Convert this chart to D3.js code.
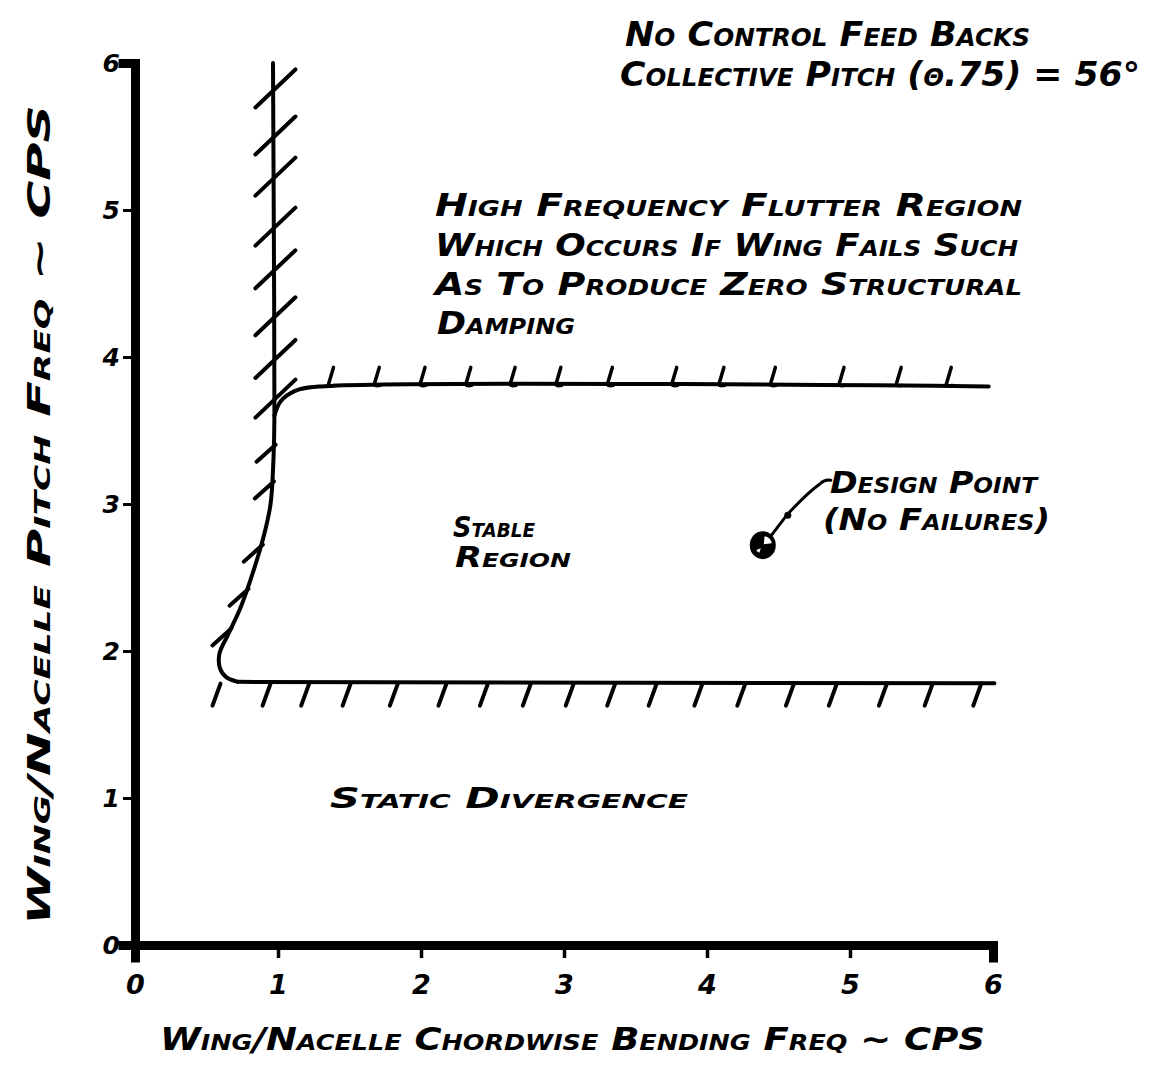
<!DOCTYPE html>
<html>
<head>
<meta charset="utf-8">
<script src="https://cdn.jsdelivr.net/npm/d3@7"></script>
<style>
  html, body { margin: 0; padding: 0; background: #fff; }
  svg { display: block; }
  .hand { font-family: "DejaVu Sans", sans-serif; font-style: oblique; font-weight: bold; font-variant: small-caps; fill: #000; }
</style>
</head>
<body>
<svg id="chart" width="1153" height="1069"></svg>
<script>
// Axis ticks (cycles per second)
const xTicks = [0, 1, 2, 3, 4, 5, 6];
const yTicks = [0, 1, 2, 3, 4, 5, 6];

// Left stability boundary (chordwise freq, pitch freq): vertical flutter edge bending into the divergence edge
const leftBoundaryX = [0.965, 0.972, 0.975, 0.968, 0.948, 0.90, 0.83, 0.74, 0.65, 0.59, 0.595, 0.64, 0.72];
const leftBoundaryY = [6.00, 4.60, 3.60, 3.30, 3.00, 2.78, 2.55, 2.30, 2.11, 1.98, 1.88, 1.82, 1.79];

// Upper (high-frequency flutter) boundary
const flutterBoundaryX = [0.975, 1.02, 1.12, 1.30, 5.97];
const flutterBoundaryY = [3.60, 3.70, 3.77, 3.80, 3.80];

// Lower (static divergence) boundary
const divergenceBoundaryX = [0.72, 6.01];
const divergenceBoundaryY = [1.79, 1.78];

// Hatch stations along each boundary
const verticalHatchY = [5.82, 5.50, 5.22, 4.88, 4.59, 4.27, 3.98, 3.71];
const curveHatchX = [0.969, 0.957, 0.88, 0.78, 0.66];
const curveHatchY = [3.39, 3.14, 2.71, 2.41, 2.14];
const flutterHatchX = [1.36, 1.68, 2.00, 2.32, 2.63, 2.95, 3.31, 3.76, 4.09, 4.45, 4.93, 5.33, 5.68];
const divergenceHatchX = [0.57, 0.92, 1.19, 1.48, 1.81, 2.15, 2.44, 2.74, 3.04, 3.33, 3.62, 3.94, 4.24, 4.58, 4.88, 5.23, 5.55, 5.89];

// Design point (no failures)
const designPointX = [4.39];
const designPointY = [2.72];

const svg = d3.select("#chart");

const x = d3.scaleLinear().domain([0, 6]).range([135, 993]);
const y = d3.scaleLinear().domain([0, 6]).range([945, 63]);

const line = d3.line().x(d => x(d[0])).y(d => y(d[1]));
const smooth = d3.line().x(d => x(d[0])).y(d => y(d[1])).curve(d3.curveCatmullRom.alpha(0.5));

// ---- axes ----
const xAxis = d3.axisBottom(x).tickValues(xTicks).tickSizeOuter(0).tickSize(13).tickFormat(d3.format("d"));
const gx = svg.append("g").attr("transform", `translate(0,${y(0)})`).call(xAxis);
gx.select(".domain").attr("stroke", "#000").attr("stroke-width", 9).attr("stroke-linecap", "square");
gx.selectAll(".tick line").attr("stroke", "#000").attr("stroke-width", 3.5).attr("y1", 4);
gx.selectAll(".tick text")
  .attr("class", "hand").attr("y", 49).attr("dy", 0)
  .attr("font-size", 27).attr("fill", "#000");

const yAxis = d3.axisLeft(y).tickValues(yTicks).tickSizeOuter(0).tickSize(12).tickFormat(d3.format("d"));
const gy = svg.append("g").attr("transform", `translate(${x(0)},0)`).call(yAxis);
gy.select(".domain").attr("stroke", "#000").attr("stroke-width", 9).attr("stroke-linecap", "square");
gy.selectAll(".tick line").attr("stroke", "#000").attr("stroke-width", 3).attr("x1", -4);
gy.selectAll(".tick text")
  .attr("class", "hand").attr("x", -15).attr("dy", "0.35em")
  .attr("font-size", 25).attr("fill", "#000");

// ---- boundaries ----
const boundaries = svg.append("g").attr("fill", "none").attr("stroke", "#000")
  .attr("stroke-linecap", "round").attr("stroke-linejoin", "round");

boundaries.append("path")
  .attr("d", smooth(d3.zip(leftBoundaryX, leftBoundaryY)))
  .attr("stroke-width", 4);
boundaries.append("path")
  .attr("d", smooth(d3.zip(flutterBoundaryX, flutterBoundaryY)))
  .attr("stroke-width", 4);
boundaries.append("path")
  .attr("d", line(d3.zip(divergenceBoundaryX, divergenceBoundaryY)))
  .attr("stroke-width", 4);

// ---- hatching ----
const hatch = svg.append("g").attr("stroke", "#000").attr("stroke-width", 4).attr("stroke-linecap", "round");

// crossing strokes on the vertical flutter edge
hatch.selectAll(".hv").data(verticalHatchY).join("line")
  .attr("x1", d => x(0.968) - 18).attr("y1", d => y(d) + 18)
  .attr("x2", d => x(0.968) + 22).attr("y2", d => y(d) - 20);

// outward strokes on the curved part
hatch.selectAll(".hc").data(d3.zip(curveHatchX, curveHatchY)).join("line")
  .attr("x1", d => x(d[0]) + 2).attr("y1", d => y(d[1]) - 2)
  .attr("x2", d => x(d[0]) - 17).attr("y2", d => y(d[1]) + 15);

// short ticks above the upper flutter boundary
hatch.selectAll(".hf").data(flutterHatchX).join("path")
  .attr("fill", "none").attr("stroke-width", 3.5)
  .attr("d", d => {
    const bx = x(d), by = y(3.80);
    return `M${bx + 4},${by - 19} L${bx - 1},${by - 2} Q${bx},${by} ${bx + 5},${by - 1}`;
  });

// slanted strokes below the divergence boundary
hatch.selectAll(".hd").data(divergenceHatchX).join("line")
  .attr("x1", d => x(d) + 4).attr("y1", y(1.785) + 1)
  .attr("x2", d => x(d) - 4).attr("y2", y(1.785) + 23);

// ---- design point ----
const dp = svg.append("g");
const cx = x(designPointX[0]), cy = y(designPointY[0]);
dp.append("path")
  .attr("d", `M${cx + 8},${cy - 9} L${cx + 24},${cy - 30} Q${cx + 44},${cy - 52} ${cx + 58},${cy - 62} Q${cx + 62},${cy - 66} ${cx + 68},${cy - 65}`)
  .attr("fill", "none").attr("stroke", "#000").attr("stroke-width", 3).attr("stroke-linecap", "round");
dp.append("circle").attr("cx", cx + 25).attr("cy", cy - 30).attr("r", 3.5).attr("fill", "#000");
dp.append("ellipse").attr("cx", cx).attr("cy", cy).attr("rx", 13).attr("ry", 14).attr("fill", "#000");
const arc = d3.arc().innerRadius(0).outerRadius(8);
dp.append("path").attr("transform", `translate(${cx + 1},${cy - 1})`)
  .attr("d", arc({ startAngle: 0.1, endAngle: Math.PI / 2 - 0.1 })).attr("fill", "#fff");
dp.append("path")
  .attr("d", arc({ startAngle: Math.PI + 0.3, endAngle: Math.PI * 1.5 - 0.4 })).attr("fill", "#fff")
  .attr("transform", `translate(${cx - 2},${cy + 3}) scale(0.6)`);

// ---- lettering ----
function label(txt, px, py, size, width) {
  const t = svg.append("text").attr("class", "hand")
    .attr("x", px).attr("y", py).attr("font-size", size).text(txt);
  if (width) t.attr("textLength", width).attr("lengthAdjust", "spacingAndGlyphs");
  return t;
}

label("No Control Feed Backs", 625, 46, 34, 405);
label("Collective  Pitch (θ.75) = 56°", 620, 86, 34, 520);

label("High Frequency Flutter Region", 435, 216, 32, 587);
label("Which Occurs If Wing Fails Such", 435, 256, 32, 583);
label("As To Produce Zero Structural", 435, 295, 32, 587);
label("Damping", 437, 334, 32, 138);

label("Stable", 453, 537, 28, 82);
label("Region", 455, 567, 28, 116);

label("Design Point", 830, 493, 30, 207);
label("(No Failures)", 823, 530, 30, 227);

label("Static Divergence", 330, 808, 28, 358);

label("Wing/Nacelle Chordwise Bending Freq ~ CPS", 160, 1050, 32, 825);

svg.append("text").attr("class", "hand")
  .attr("transform", "translate(50,925) rotate(-90)")
  .attr("font-size", 32)
  .attr("textLength", 820).attr("lengthAdjust", "spacingAndGlyphs")
  .text("Wing/Nacelle Pitch Freq ~ CPS");
</script>
</body>
</html>
